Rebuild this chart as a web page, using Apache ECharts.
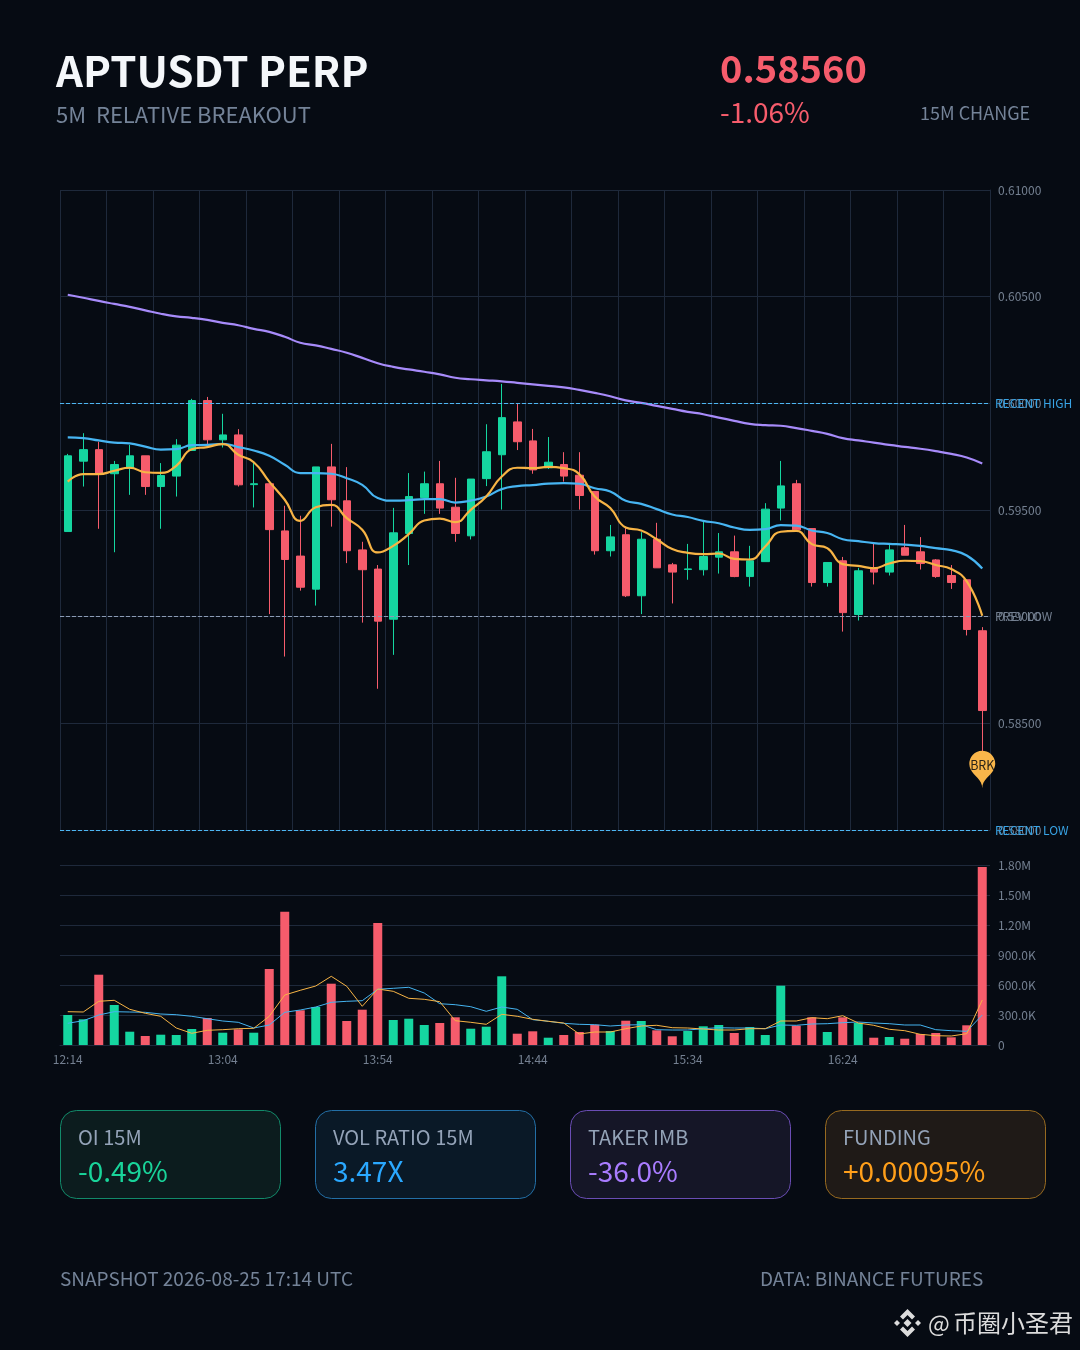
<!DOCTYPE html>
<html>
<head>
<meta charset="utf-8">
<style>html,body{margin:0;padding:0;background:#060b13}#c{width:1080px;height:1350px}</style>
<script src="https://cdn.jsdelivr.net/npm/echarts@6/dist/echarts.min.js"></script>
</head>
<body>
<div id="c"></div>
<script>
const categories = ["12:14","12:19","12:24","12:29","12:34","12:39","12:44","12:49","12:54","12:59","13:04","13:09","13:14","13:19","13:24","13:29","13:34","13:39","13:44","13:49","13:54","13:59","14:04","14:09","14:14","14:19","14:24","14:29","14:34","14:39","14:44","14:49","14:54","14:59","15:04","15:09","15:14","15:19","15:24","15:29","15:34","15:39","15:44","15:49","15:54","15:59","16:04","16:09","16:14","16:19","16:24","16:29","16:34","16:39","16:44","16:49","16:54","16:59","17:04","17:09"];
// open, close, low, high
const ohlc = [
[0.59399,0.59754,0.59398,0.59763],[0.59729,0.59783,0.59610,0.59860],[0.59783,0.59668,0.59412,0.59820],[0.59670,0.59713,0.59302,0.59730],
[0.59696,0.59754,0.59571,0.59805],[0.59754,0.59610,0.59571,0.59754],[0.59610,0.59662,0.59412,0.59720],[0.59659,0.59804,0.59563,0.59832],
[0.59779,0.60013,0.59779,0.60021],[0.60013,0.59829,0.59805,0.60030],[0.59829,0.59852,0.59793,0.59951],[0.59852,0.59618,0.59610,0.59879],
[0.59619,0.59623,0.59512,0.59727],[0.59623,0.59408,0.59012,0.59623],[0.59402,0.59268,0.58813,0.59520],[0.59284,0.59138,0.59122,0.59473],
[0.59129,0.59702,0.59052,0.59702],[0.59702,0.59548,0.59422,0.59810],[0.59543,0.59309,0.59251,0.59701],[0.59313,0.59220,0.58972,0.59351],
[0.59223,0.58979,0.58662,0.59242],[0.58988,0.59393,0.58821,0.59510],[0.59390,0.59563,0.59242,0.59673],[0.59558,0.59623,0.59482,0.59680],
[0.59623,0.59509,0.59482,0.59730],[0.59513,0.59390,0.59351,0.59651],[0.59379,0.59645,0.59362,0.59645],[0.59647,0.59773,0.59612,0.59902],
[0.59759,0.59933,0.59502,0.60091],[0.59913,0.59820,0.59781,0.59998],[0.59824,0.59688,0.59670,0.59880],[0.59698,0.59724,0.59692,0.59842],
[0.59713,0.59659,0.59633,0.59771],[0.59663,0.59568,0.59502,0.59771],[0.59587,0.59309,0.59291,0.59587],[0.59309,0.59374,0.59282,0.59430],
[0.59384,0.59098,0.59092,0.59415],[0.59098,0.59363,0.59012,0.59396],[0.59363,0.59229,0.59229,0.59440],[0.59243,0.59209,0.59062,0.59252],
[0.59221,0.59224,0.59173,0.59341],[0.59220,0.59282,0.59193,0.59448],[0.59279,0.59304,0.59202,0.59392],[0.59304,0.59188,0.59185,0.59380],
[0.59188,0.59262,0.59141,0.59332],[0.59258,0.59504,0.59258,0.59532],[0.59509,0.59613,0.59451,0.59730],[0.59623,0.59407,0.59407,0.59641],
[0.59413,0.59160,0.59141,0.59413],[0.59160,0.59254,0.59141,0.59254],[0.59262,0.59019,0.58930,0.59280],[0.59010,0.59215,0.58982,0.59229],
[0.59230,0.59209,0.59151,0.59341],[0.59209,0.59313,0.59193,0.59337],[0.59323,0.59288,0.59288,0.59430],[0.59304,0.59249,0.59221,0.59373],
[0.59266,0.59188,0.59182,0.59270],[0.59193,0.59160,0.59130,0.59242],[0.59173,0.58940,0.58912,0.59173],[0.58934,0.58560,0.58282,0.58951]
];
const maFast = [0.59633,0.59668,0.59668,0.59684,0.59698,0.59677,0.59674,0.59707,0.59785,0.59795,0.59809,0.59759,0.59724,0.59633,0.59548,0.59449,0.59513,0.59524,0.59462,0.59407,0.59301,0.59332,0.59387,0.59451,0.59460,0.59443,0.59501,0.59563,0.59657,0.59698,0.59696,0.59702,0.59696,0.59668,0.59563,0.59509,0.59418,0.59404,0.59363,0.59317,0.59299,0.59293,0.59296,0.59271,0.59268,0.59329,0.59398,0.59402,0.59340,0.59321,0.59246,0.59238,0.59227,0.59249,0.59262,0.59260,0.59242,0.59223,0.59165,0.59004];
const maMid = [0.59840,0.59837,0.59826,0.59816,0.59812,0.59797,0.59783,0.59785,0.59804,0.59805,0.59810,0.59795,0.59779,0.59754,0.59712,0.59673,0.59673,0.59670,0.59649,0.59618,0.59556,0.59544,0.59546,0.59551,0.59551,0.59535,0.59544,0.59563,0.59598,0.59612,0.59617,0.59624,0.59626,0.59623,0.59602,0.59587,0.59543,0.59529,0.59504,0.59479,0.59467,0.59449,0.59438,0.59418,0.59407,0.59410,0.59429,0.59427,0.59404,0.59392,0.59363,0.59354,0.59345,0.59341,0.59338,0.59332,0.59321,0.59312,0.59287,0.59226];
const maSlow = [0.60509,0.60495,0.60480,0.60466,0.60452,0.60436,0.60420,0.60408,0.60401,0.60391,0.60377,0.60366,0.60349,0.60335,0.60312,0.60284,0.60272,0.60255,0.60237,0.60213,0.60188,0.60171,0.60159,0.60148,0.60136,0.60120,0.60113,0.60108,0.60103,0.60096,0.60089,0.60082,0.60075,0.60063,0.60049,0.60033,0.60014,0.60002,0.59988,0.59974,0.59960,0.59949,0.59933,0.59918,0.59904,0.59898,0.59895,0.59884,0.59871,0.59857,0.59837,0.59826,0.59816,0.59805,0.59796,0.59787,0.59776,0.59763,0.59746,0.59718];
const volume = [300000,257000,703000,400000,133000,90000,103000,100000,160000,270000,123000,157000,123000,760000,1333000,347000,380000,613000,240000,353000,1220000,250000,263000,200000,220000,277000,163000,183000,687000,113000,137000,73000,100000,130000,203000,140000,243000,240000,147000,87000,140000,187000,200000,120000,180000,100000,593000,193000,277000,130000,277000,220000,73000,80000,63000,110000,120000,77000,197000,1780000];
const volFast = [333000,330000,437000,447000,357000,317000,287000,170000,117000,147000,153000,163000,167000,287000,500000,547000,590000,687000,587000,387000,560000,537000,467000,457000,433000,243000,227000,207000,307000,287000,257000,237000,220000,110000,130000,130000,163000,190000,197000,173000,170000,160000,150000,150000,163000,163000,240000,240000,273000,263000,293000,220000,197000,157000,143000,107000,93000,90000,113000,450000];
const volSlow = [217000,243000,300000,333000,330000,327000,310000,303000,287000,263000,240000,227000,170000,200000,327000,350000,380000,427000,437000,443000,557000,567000,577000,520000,413000,403000,383000,337000,380000,357000,253000,237000,217000,207000,203000,190000,200000,203000,153000,150000,150000,163000,173000,170000,170000,163000,200000,197000,210000,213000,223000,230000,220000,213000,200000,200000,153000,143000,137000,300000];
const priceTicks = {min:0.58, max:0.61, step:0.005};
const volTicks = {min:0, max:1800000, step:300000};
const levels = [["RECENT HIGH",0.6],["PREV LOW",0.59],["RECENT LOW",0.58]];
const breakoutMark = {name:"BRK", value:0.58196};
const header = {title:"APTUSDT PERP", sub:"5M  RELATIVE BREAKOUT", price:"0.58560", change:"-1.06%", changeLabel:"15M CHANGE"};
const cards = [["OI 15M","-0.49%"],["VOL RATIO 15M","3.47X"],["TAKER IMB","-36.0%"],["FUNDING","+0.00095%"]];
const footer = ["SNAPSHOT 2026-08-25 17:14 UTC","DATA: BINANCE FUTURES","@","币圈小圣君"];

const FONT = '"Noto Sans CJK SC","Noto Sans",sans-serif';
const UP='#15d6a0', DOWN='#f65c6c', GRID='#1e293b', AXIS='#748091', MUTED='#748398';
const cardStyle = [
 {x:60, fill:'#0c1c1e', stroke:'#128a6a', c:'#19d49a'},
 {x:315,fill:'#0a1927', stroke:'#236fa6', c:'#2aa8ff'},
 {x:570,fill:'#151627', stroke:'#6a4db4', c:'#a97cff'},
 {x:825,fill:'#1f1a17', stroke:'#976a20', c:'#ff9f1a'}
];
function txt(x,y,text,size,fill,weight,align){
  return {type:'text',x,y,silent:true,style:{text,fontSize:size,fill,fontWeight:weight||400,fontFamily:FONT,align:align||'left',verticalAlign:'middle'}};
}
const g = [
 txt(56,71,header.title,42,'#f4f7fa',700),
 txt(56,115,header.sub,22,MUTED),
 txt(720,69,header.price,38,DOWN,700),
 txt(720,112,header.change,28,DOWN,400),
 txt(920,113,header.changeLabel,18,MUTED),
 txt(60,1279,footer[0],19,MUTED),
 txt(760,1279,footer[1],19,MUTED),
 txt(928,1323,footer[2],23,'#dcdcdc'),
 txt(953,1323,footer[3],24,'#dcdcdc')
];
cards.forEach((c,i)=>{
  const s=cardStyle[i];
  g.push({type:'rect',x:s.x+0.5,y:1110.5,silent:true,shape:{width:220,height:88,r:16},style:{fill:s.fill,stroke:s.stroke,lineWidth:1}});
  g.push(txt(s.x+18,1137,c[0],20,'#94a3b8'));
  g.push(txt(s.x+18,1171,c[1],28,s.c,400));
});
const logo = [
 [[907.5,1309],[915,1316.5],[912,1319.5],[907.5,1315],[903,1319.5],[900,1316.5]],
 [[907.5,1337],[915,1329.5],[912,1326.5],[907.5,1331],[903,1326.5],[900,1329.5]],
 [[907.5,1319],[911.5,1323],[907.5,1327],[903.5,1323]],
 [[897,1320],[900,1323],[897,1326],[894,1323]],
 [[918,1320],[921,1323],[918,1326],[915,1323]]
];
logo.forEach(p=>g.push({type:'polygon',silent:true,shape:{points:p},style:{fill:'#dcdcdc'}}));

const lvlLines = levels.map((l,i)=>({
  yAxis:l[1], name:l[0],
  lineStyle:{color:i===1?'#8b9bb4':'#4db6f2',type:'dashed',width:1},
  label:{formatter:l[0],color:i===1?'#748091':'#38a4e6',fontSize:12,fontFamily:FONT,position:'end',padding:[3,0,0,0]}
}));
const line=(name,data,color,w,idx,smooth,extra)=>Object.assign({name,type:'line',data,xAxisIndex:idx,yAxisIndex:idx,smooth,symbol:'none',showSymbol:false,silent:true,lineStyle:{color,width:w},z:3},extra||{});

const chart = echarts.init(document.getElementById('c'),null,{width:1080,height:1350});
chart.setOption({
  animation:false, backgroundColor:'#060b13', graphic:g,
  grid:[{left:60,right:90,top:190,height:640},{left:60,right:90,top:865,height:180}],
  xAxis:[
    {type:'category',gridIndex:0,data:categories,boundaryGap:true,axisLabel:{show:false},axisTick:{show:false},
     axisLine:{show:false},splitLine:{show:true,interval:2,lineStyle:{color:GRID,width:1}}},
    {type:'category',gridIndex:1,data:categories,boundaryGap:true,axisTick:{show:false},
     axisLine:{show:true,lineStyle:{color:GRID}},splitLine:{show:false},
     axisLabel:{interval:9,color:AXIS,fontSize:12,fontFamily:FONT,margin:8}}
  ],
  yAxis:[
    {type:'value',gridIndex:0,position:'right',scale:true,min:priceTicks.min,max:priceTicks.max,interval:priceTicks.step,
     axisLine:{show:true,lineStyle:{color:GRID}},axisTick:{show:false},splitLine:{lineStyle:{color:GRID}},
     axisLabel:{color:AXIS,fontSize:12,fontFamily:FONT,margin:8,padding:[3,0,0,0],formatter:v=>v.toFixed(5)}},
    {type:'value',gridIndex:1,position:'right',min:volTicks.min,max:volTicks.max,interval:volTicks.step,
     axisLine:{show:false},axisTick:{show:false},splitLine:{lineStyle:{color:GRID}},
     axisLabel:{color:AXIS,fontSize:12,fontFamily:FONT,margin:8,padding:[3,0,0,0],
       formatter:v=>v===0?'0':v>=1e6?(v/1e6).toFixed(2)+'M':(v/1e3).toFixed(1)+'K'}}
  ],
  series:[
    {name:'Price',type:'candlestick',xAxisIndex:0,yAxisIndex:0,data:ohlc,barWidth:8,silent:true,
     itemStyle:{color:UP,color0:DOWN,borderColor:UP,borderColor0:DOWN,borderWidth:1},z:2,
     markLine:{silent:true,symbol:'none',animation:false,data:lvlLines},
     markPoint:{silent:true,animation:false,data:[{coord:[categories[categories.length-1],breakoutMark.value],symbol:'pin',symbolSize:43,
       itemStyle:{color:'#f9b64a'},label:{show:true,formatter:breakoutMark.name,color:'#2a2418',fontSize:12.5,fontFamily:FONT}}]}},
    line('MA slow',maSlow,'#a78bfa',2.2,0,true),
    line('MA mid',maMid,'#47b5f2',2.2,0,true),
    line('MA fast',maFast,'#f7b445',2.2,0,true),
    {name:'Volume',type:'bar',xAxisIndex:1,yAxisIndex:1,barWidth:9,silent:true,
     data:volume.map((v,i)=>({value:v,itemStyle:{color:ohlc[i][1]>=ohlc[i][0]?UP:DOWN}})),z:2},
    line('Vol slow',volSlow,'#45b4f0',1,1,false),
    line('Vol fast',volFast,'#f7b445',1,1,false)
  ]
});
</script>
</body>
</html>
